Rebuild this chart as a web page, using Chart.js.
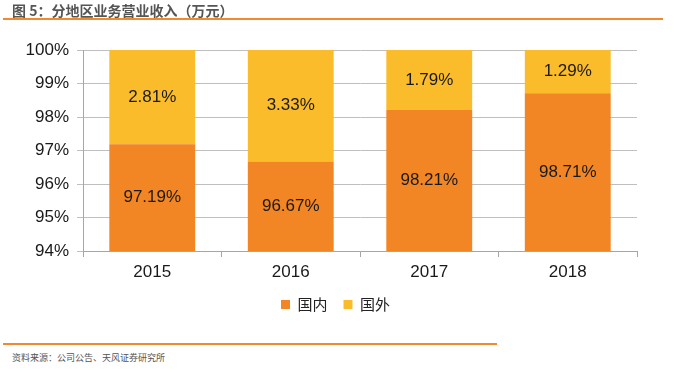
<!DOCTYPE html>
<html>
<head>
<meta charset="utf-8">
<script src="https://cdn.jsdelivr.net/npm/chart.js@4"></script>
<style>
    body { margin: 0; width: 700px; height: 373px; background: #fff; position: relative; overflow: hidden; font-family: "Noto Sans CJK SC", sans-serif; }
    #title { position: absolute; left: 12px; top: 0px; font-size: 14px; font-weight: bold; color: #555; }
    #topLine { position: absolute; left: 3px; top: 18px; width: 660px; height: 2px; background: #F08A2C; }
    #chartBox { position: absolute; left: 0; top: 0; width: 700px; height: 330px; }
    #bottomLine { position: absolute; left: 3px; top: 343px; width: 494px; height: 2px; background: #F08A2C; }
    #source { position: absolute; left: 12px; top: 351px; font-size: 9px; color: #555; }
</style>
</head>
<body>
<div id="chartBox"><canvas id="chart" width="700" height="330"></canvas></div>
<div id="title">图 5：分地区业务营业收入（万元）</div>
<div id="topLine"></div>
<div id="bottomLine"></div>
<div id="source">资料来源：公司公告、天风证券研究所</div>
<script>
// Data
const years = ['2015', '2016', '2017', '2018'];
const domestic = [97.19, 96.67, 98.21, 98.71];
const foreign = [2.81, 3.33, 1.79, 1.29];
const yTicks = [94, 95, 96, 97, 98, 99, 100];

const Y_MIN = 94;
const Y_MAX = 100;
const AXIS_FONT = '"Liberation Sans", Arial, sans-serif';

// Value labels in the middle of the visible part of each segment
const segmentLabels = {
    id: 'segmentLabels',
    afterDatasetsDraw(chart) {
        const ctx = chart.ctx;
        const yScale = chart.scales.y;
        ctx.save();
        ctx.font = '17px ' + AXIS_FONT;
        ctx.fillStyle = '#1a1a1a';
        ctx.textAlign = 'center';
        ctx.textBaseline = 'middle';
        chart.data.datasets.forEach((ds, di) => {
            const meta = chart.getDatasetMeta(di);
            meta.data.forEach((bar, i) => {
                let lo = di === 0 ? 0 : domestic[i];
                let hi = lo + ds.data[i];
                lo = Math.max(lo, Y_MIN);
                hi = Math.min(hi, Y_MAX);
                const mid = yScale.getPixelForValue((lo + hi) / 2);
                ctx.fillText(ds.data[i].toFixed(2) + '%', bar.x, mid);
            });
        });
        ctx.restore();
    }
};

// Nudge the legend to the right, as in the original
const legendShift = {
    id: 'legendShift',
    afterLayout(chart) {
        if (chart.legend) {
            chart.legend.left += 17;
            chart.legend.right += 17;
        }
    }
};

new Chart(document.getElementById('chart'), {
    type: 'bar',
    data: {
        labels: years,
        datasets: [
            {
                label: '国内',
                data: domestic,
                backgroundColor: '#F28524',
                borderWidth: 0,
                categoryPercentage: 0.62,
                barPercentage: 1
            },
            {
                label: '国外',
                data: foreign,
                backgroundColor: '#FBBC2C',
                borderWidth: 0,
                categoryPercentage: 0.62,
                barPercentage: 1
            }
        ]
    },
    options: {
        responsive: false,
        animation: false,
        layout: {
            padding: { top: 50, right: 63, bottom: 8, left: 0 }
        },
        plugins: {
            legend: {
                position: 'bottom',
                labels: {
                    color: '#222',
                    boxWidth: 9,
                    boxHeight: 9,
                    padding: 16,
                    font: { size: 15, family: '"Noto Sans CJK SC", sans-serif' }
                }
            },
            tooltip: { enabled: false }
        },
        scales: {
            x: {
                stacked: true,
                grid: {
                    display: true,
                    drawOnChartArea: false,
                    offset: true,
                    color: '#A6A6A6',
                    tickLength: 6
                },
                border: { color: '#A6A6A6' },
                ticks: {
                    color: '#1a1a1a',
                    padding: 5,
                    font: { size: 17, family: AXIS_FONT }
                },
                afterFit(scale) { scale.height = 30; }
            },
            y: {
                stacked: true,
                min: Y_MIN,
                max: Y_MAX,
                afterBuildTicks(scale) {
                    scale.ticks = yTicks.map(v => ({ value: v }));
                },
                grid: {
                    color: '#BFBFBF',
                    tickLength: 6
                },
                border: { color: '#A6A6A6' },
                ticks: {
                    color: '#1a1a1a',
                    padding: 8,
                    font: { size: 17, family: AXIS_FONT },
                    callback: v => v + '%'
                },
                afterFit(scale) { scale.width = 83; }
            }
        }
    },
    plugins: [segmentLabels, legendShift]
});
</script>
</body>
</html>
